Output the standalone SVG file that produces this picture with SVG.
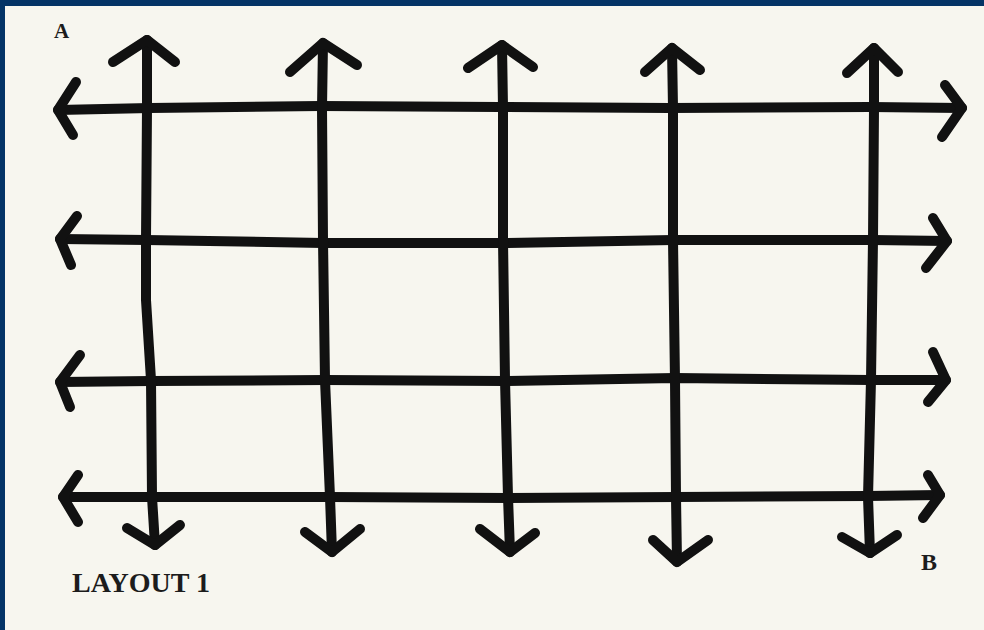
<svg xmlns="http://www.w3.org/2000/svg" width="984" height="630" viewBox="0 0 984 630">
<style>
.ln{fill:none;stroke:#111;stroke-width:10;stroke-linecap:round;stroke-linejoin:round}
.lbl{font-family:"Liberation Serif","Times New Roman",serif;font-weight:bold;fill:#1c1c1c}
</style>
<rect x="0" y="0" width="984" height="630" fill="#043466"/>
<rect x="5" y="6" width="979" height="624" fill="#f7f6ef"/>
<g id="connectors">
<g id="h1"><path class="ln" d="M58,110 L150,108 L320,106 L500,107 L670,108 L870,107 L962,108"/><path class="ln" d="M76,82 L58,110 L73,135"/><path class="ln" d="M945,85 L962,108 L942,137"/></g>
<g id="h2"><path class="ln" d="M60,239 L146,240 L323,243 L503,243 L673,240 L873,240 L947,241"/><path class="ln" d="M77,216 L60,239 L71,265"/><path class="ln" d="M933,218 L947,241 L926,268"/></g>
<g id="h3"><path class="ln" d="M60,382 L151,381 L325,380 L505,381 L675,378 L871,380 L946,380"/><path class="ln" d="M80,355 L60,382 L70,407"/><path class="ln" d="M933,352 L946,380 L928,402"/></g>
<g id="h4"><path class="ln" d="M63,497 L152,497 L330,497 L508,498 L676,497 L868,496 L940,495"/><path class="ln" d="M78,475 L63,497 L78,522"/><path class="ln" d="M928,475 L940,495 L923,518"/></g>
<g id="v1"><path class="ln" d="M147,40 L147,108 L146,240 L146,300 L151,380 L152,497 L155,545"/><path class="ln" d="M113,62 L147,40 L175,62"/><path class="ln" d="M127,528 L155,545 L180,525"/></g>
<g id="v2"><path class="ln" d="M323,43 L322,108 L323,240 L325,380 L330,497 L332,552"/><path class="ln" d="M290,72 L323,43 L357,65"/><path class="ln" d="M305,532 L332,552 L360,529"/></g>
<g id="v3"><path class="ln" d="M502,45 L503,108 L503,240 L505,380 L508,497 L510,552"/><path class="ln" d="M468,68 L502,45 L533,67"/><path class="ln" d="M480,529 L510,552 L535,533"/></g>
<g id="v4"><path class="ln" d="M672,48 L673,108 L673,240 L675,380 L676,497 L677,562"/><path class="ln" d="M645,72 L672,48 L700,70"/><path class="ln" d="M653,540 L677,562 L708,540"/></g>
<g id="v5"><path class="ln" d="M874,48 L874,108 L873,240 L871,380 L868,497 L870,553"/><path class="ln" d="M847,73 L874,48 L898,72"/><path class="ln" d="M842,537 L870,553 L897,535"/></g>
</g>
<g id="label-a"><text class="lbl" x="54" y="38" font-size="21">A</text></g>
<g id="label-b"><text class="lbl" x="921" y="570" font-size="24">B</text></g>
<g id="label-layout"><text class="lbl" x="72" y="592" font-size="28" textLength="138" lengthAdjust="spacingAndGlyphs">LAYOUT 1</text></g>
</svg>
